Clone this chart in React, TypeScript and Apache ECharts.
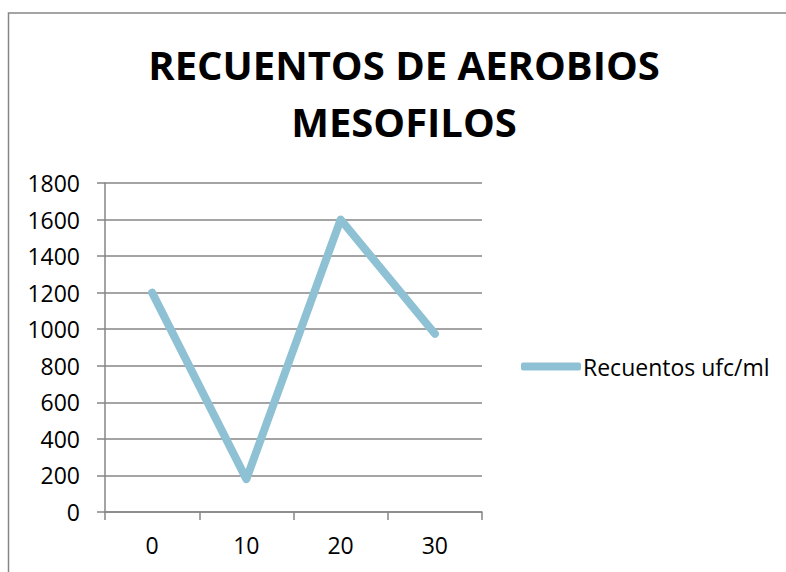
import React, { useEffect, useRef } from "react";
import * as echarts from "echarts";

const categories = ["0", "10", "20", "30"];
const seriesName = "Recuentos ufc/ml";
const values = [1200, 180, 1600, 975];
const titleLines = ["RECUENTOS DE AEROBIOS", "MESOFILOS"];

const FONT = "'Open Sans', 'Liberation Sans', sans-serif";
const GRAY = "#868686";
const LINE = "#8FC1D4";

export default function App() {
  const ref = useRef<HTMLDivElement>(null);
  useEffect(() => {
    document.body.style.margin = "0";
    if (!ref.current) return;
    const chart = echarts.init(ref.current, null, { renderer: "svg" });
    chart.setOption({
      animation: false,
      backgroundColor: "#ffffff",
      graphic: [
        {
          type: "rect",
          shape: { x: 8.5, y: 13, width: 900, height: 700 },
          style: { fill: "none", stroke: GRAY, lineWidth: 1.5 },
          silent: true,
        },
        {
          type: "text",
          x: 404,
          y: 64,
          style: {
            text: titleLines[0],
            font: `bold 40px ${FONT}`,
            fill: "#000",
            align: "center",
            verticalAlign: "middle",
          },
        },
        {
          type: "text",
          x: 404,
          y: 121,
          style: {
            text: titleLines[1],
            font: `bold 40px ${FONT}`,
            fill: "#000",
            align: "center",
            verticalAlign: "middle",
          },
        },
      ],
      legend: {
        show: true,
        orient: "vertical",
        left: 516,
        top: 350,
        icon: "roundRect",
        itemWidth: 60,
        itemHeight: 8,
        itemGap: 0,
        textStyle: { fontFamily: FONT, fontSize: 23, color: "#000", padding: [0, 0, 0, -3] },
        data: [seriesName],
      },
      grid: { left: 105, right: 304, top: 183, bottom: 60, containLabel: false },
      xAxis: {
        type: "category",
        data: categories,
        boundaryGap: true,
        axisLine: { show: true, lineStyle: { color: GRAY, width: 1.5 } },
        axisTick: { show: true, length: 8, interval: 0, lineStyle: { color: GRAY, width: 1.5 } },
        axisLabel: { fontFamily: FONT, fontSize: 23, color: "#000", margin: 21 },
        splitLine: { show: false },
      },
      yAxis: {
        type: "value",
        min: 0,
        max: 1800,
        interval: 200,
        axisLine: { show: true, lineStyle: { color: GRAY, width: 1.5 } },
        axisTick: { show: true, length: 8, lineStyle: { color: GRAY, width: 1.5 } },
        axisLabel: {
          fontFamily: FONT,
          fontSize: 23,
          color: "#000",
          margin: 25,
          formatter: (v: number) => String(v),
        },
        splitLine: { show: true, lineStyle: { color: GRAY, width: 1.5 } },
      },
      series: [
        {
          name: seriesName,
          type: "line",
          data: values,
          symbol: "none",
          color: LINE,
          lineStyle: { color: LINE, width: 8, cap: "round", join: "round" },
        },
      ],
    });
    return () => chart.dispose();
  }, []);
  return <div ref={ref} style={{ width: 786, height: 572 }} />;
}
